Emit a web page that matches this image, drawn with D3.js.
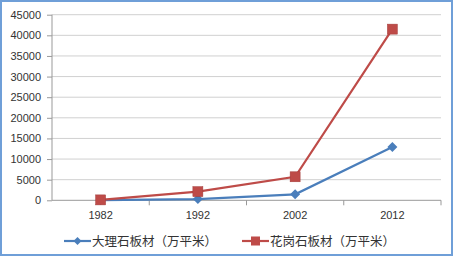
<!DOCTYPE html>
<html>
<head>
<meta charset="utf-8">
<script src="https://cdn.jsdelivr.net/npm/d3@7"></script>
<style>
  html,body{margin:0;padding:0;background:#fff;}
  svg{display:block;font-family:"Liberation Sans",Arial,sans-serif;}
  .axis text{font-size:11px;fill:#333;}
  .axis path,.axis line{stroke:#999;}
  .grid line{stroke:#d0d0d0;}
  .legend text{font-family:"Noto Sans CJK SC",sans-serif;font-size:12.5px;fill:#333;}
</style>
</head>
<body>
<svg id="chart" width="453" height="259"></svg>
<script>
/* ===== Data ===== */
const years = ['1982','1992','2002','2012'];
const marble = [50, 300, 1450, 12900];     // 大理石板材（万平米）
const granite = [100, 2100, 5700, 41500];  // 花岗石板材（万平米）
const yTicks = [0,5000,10000,15000,20000,25000,30000,35000,40000,45000];
const seriesNames = ['大理石板材（万平米）','花岗石板材（万平米）'];

/* ===== Render ===== */
const svg = d3.select('#chart'), W = 453, H = 259;
const m = {t:14.7, r:12, b:58.7, l:52};
const innerW = W-m.l-m.r, innerH = H-m.t-m.b;

// outer frame
svg.append('rect').attr('x',1).attr('y',1).attr('width',W-2).attr('height',H-5)
  .attr('fill','#fff').attr('stroke','#6f9fd8').attr('stroke-width',2);

const g = svg.append('g').attr('transform',`translate(${m.l},${m.t})`);

const x = d3.scaleBand().domain(years).range([0,innerW]);
const y = d3.scaleLinear().domain([0,45000]).range([innerH,0]);

// gridlines
g.append('g').attr('class','grid').selectAll('line').data(yTicks.slice(1)).enter().append('line')
  .attr('x1',0).attr('x2',innerW).attr('y1',d=>y(d)).attr('y2',d=>y(d));

// y axis (ticks only, small outside ticks)
const yA = d3.axisLeft(y).tickValues(yTicks).tickSize(5).tickPadding(6).tickFormat(d3.format('d'));
g.append('g').attr('class','axis').call(yA).call(s=>s.select('.domain').remove())
  .call(s=>s.selectAll('text').attr('font-size','11.5px'));
g.append('line').attr('x1',0).attr('x2',0).attr('y1',0).attr('y2',innerH).attr('stroke','#999');

// x axis with ticks at band boundaries
const xa = g.append('g').attr('class','axis').attr('transform',`translate(0,${innerH})`);
xa.append('line').attr('x1',0).attr('x2',innerW).attr('y1',0).attr('y2',0).attr('stroke','#999');
xa.selectAll('line.tk').data(years).enter().append('line').attr('class','tk')
  .attr('x1',d=>x(d)+x.bandwidth()).attr('x2',d=>x(d)+x.bandwidth()).attr('y1',0).attr('y2',5).attr('stroke','#999');
xa.selectAll('text').data(years).enter().append('text')
  .attr('x',d=>x(d)+x.bandwidth()/2).attr('y',19).attr('text-anchor','middle')
  .attr('font-size','11.5px').text(d=>d);

const cx = d => x(d)+x.bandwidth()/2;
const line = d3.line().x((d,i)=>cx(years[i])).y(d=>y(d));

const blue = '#4a7ebb', red = '#be4b48';
// diamond = square rotated 45deg (wider than d3's symbolDiamond)
const diamond = s => `M0,${-s}L${s},0L0,${s}L${-s},0Z`;

// marble
g.append('path').attr('d',line(marble)).attr('fill','none').attr('stroke',blue).attr('stroke-width',2.2);
g.selectAll('.dm').data(marble).enter().append('path').attr('class','dm')
  .attr('transform',(d,i)=>`translate(${cx(years[i])},${y(d)})`).attr('d',diamond(5)).attr('fill',blue);

// granite
g.append('path').attr('d',line(granite)).attr('fill','none').attr('stroke',red).attr('stroke-width',2.2);
g.selectAll('.sq').data(granite).enter().append('rect').attr('class','sq')
  .attr('x',(d,i)=>cx(years[i])-5).attr('y',d=>y(d)-5).attr('width',10).attr('height',10)
  .attr('fill',red).attr('stroke','#a33c3a').attr('stroke-width',0.5);

// legend
const lg = svg.append('g').attr('class','legend').attr('transform','translate(0,241)');
const items = [{x:64, c:blue, name:seriesNames[0], mk:'d'},{x:242, c:red, name:seriesNames[1], mk:'s'}];
items.forEach(it=>{
  lg.append('line').attr('x1',it.x).attr('x2',it.x+27).attr('y1',0).attr('y2',0).attr('stroke',it.c).attr('stroke-width',2.2);
  if(it.mk==='d') lg.append('path').attr('transform',`translate(${it.x+13.5},0)`).attr('d',diamond(4)).attr('fill',it.c);
  else lg.append('rect').attr('x',it.x+9).attr('y',-4.5).attr('width',9).attr('height',9).attr('fill',it.c);
  lg.append('text').attr('x',it.x+28).attr('y',4.5).text(it.name);
});
</script>
</body>
</html>
